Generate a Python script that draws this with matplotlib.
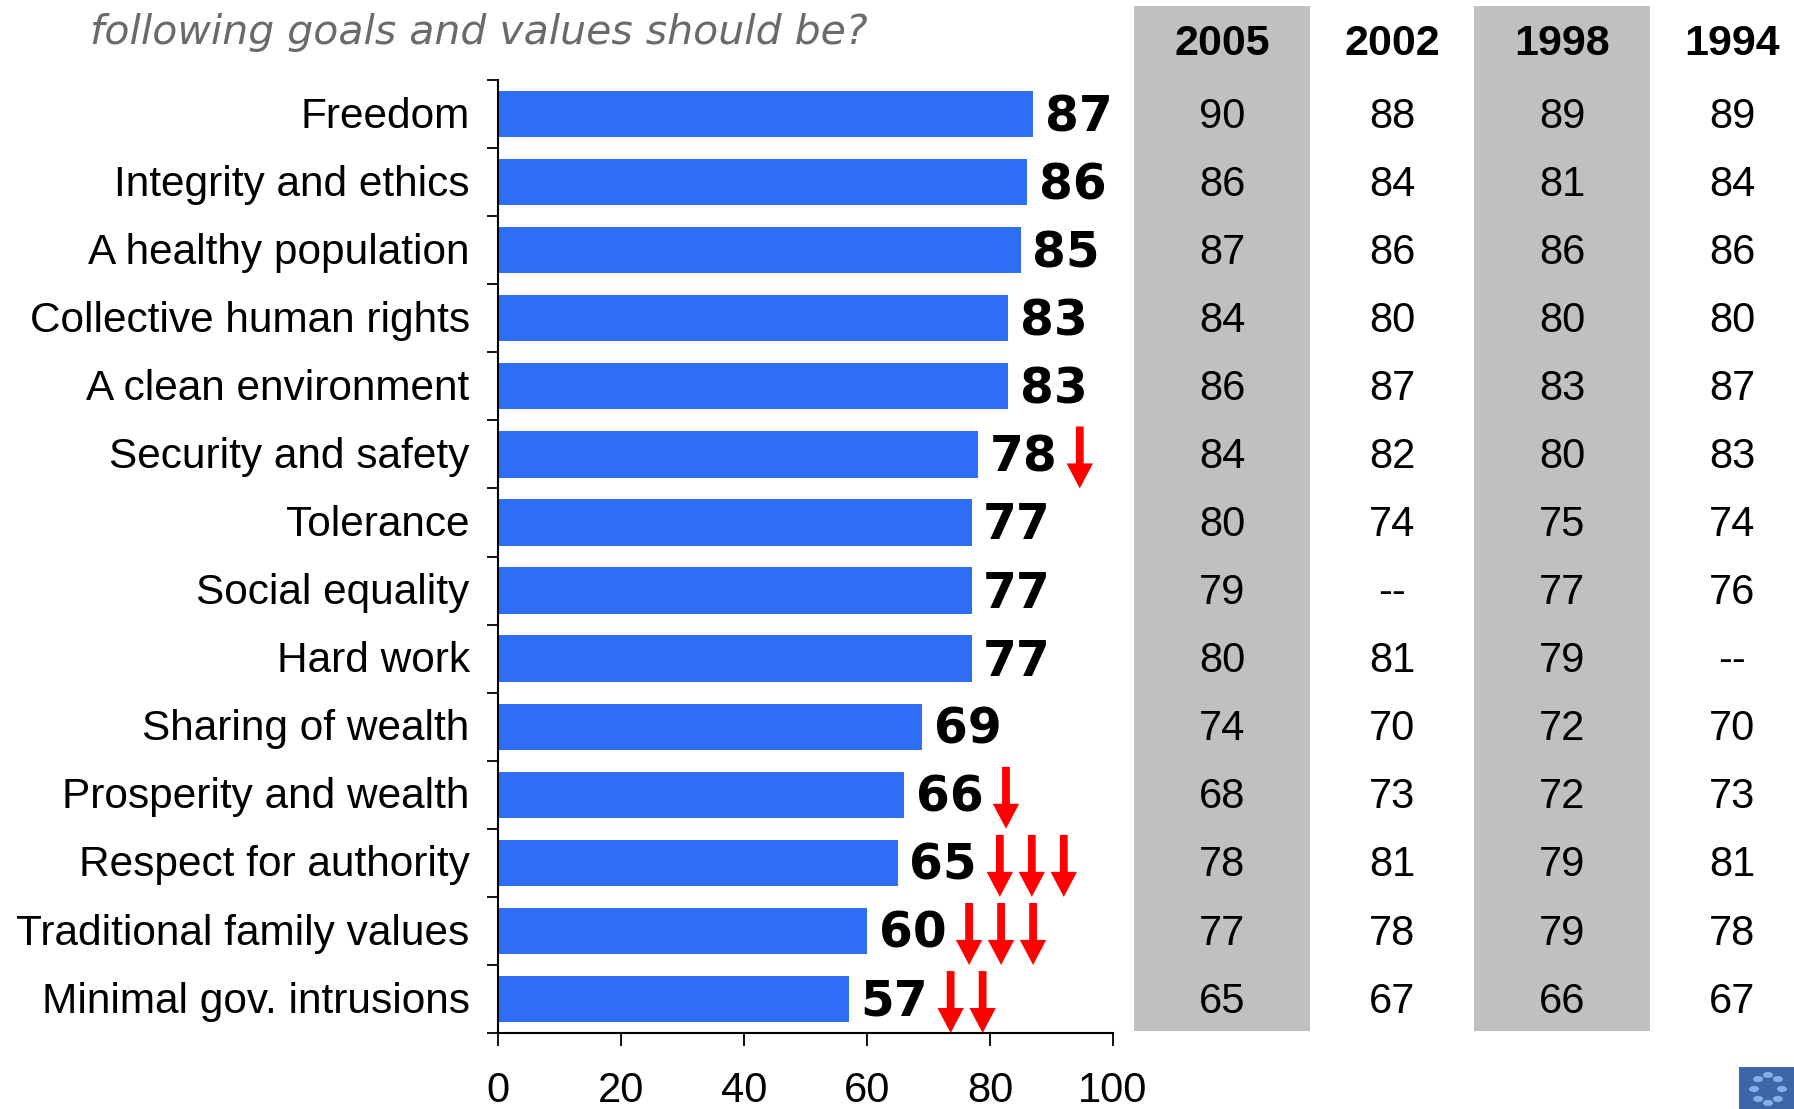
import matplotlib
matplotlib.use('Agg')
import matplotlib.pyplot as plt
from matplotlib import font_manager
from matplotlib.patches import Rectangle, Circle
import numpy as np

categories = ['Freedom', 'Integrity and ethics', 'A healthy population',
              'Collective human rights', 'A clean environment', 'Security and safety',
              'Tolerance', 'Social equality', 'Hard work', 'Sharing of wealth',
              'Prosperity and wealth', 'Respect for authority',
              'Traditional family values', 'Minimal gov. intrusions']
values = [87, 86, 85, 83, 83, 78, 77, 77, 77, 69, 66, 65, 60, 57]
down_arrows = [0, 0, 0, 0, 0, 1, 0, 0, 0, 0, 1, 3, 3, 2]

years = ['2005', '2002', '1998', '1994']
y2005 = ['90', '86', '87', '84', '86', '84', '80', '79', '80', '74', '68', '78', '77', '65']
y2002 = ['88', '84', '86', '80', '87', '82', '74', '--', '81', '70', '73', '81', '78', '67']
y1998 = ['89', '81', '86', '80', '83', '80', '75', '77', '79', '72', '72', '79', '79', '66']
y1994 = ['89', '84', '86', '80', '87', '83', '74', '76', '--', '70', '73', '81', '78', '67']
table_cols = [y2005, y2002, y1998, y1994]
shaded = [True, False, True, False]

names = {f.name for f in font_manager.fontManager.ttflist}
narrow = 'Liberation Sans Narrow' if 'Liberation Sans Narrow' in names else 'Liberation Sans'
plt.rcParams['font.family'] = ['Liberation Sans', 'DejaVu Sans']

W, H = 1794, 1109
fig = plt.figure(figsize=(W / 100, H / 100), dpi=100)

# main bar axes (pixel layout from the reference)
ax = fig.add_axes([498 / W, 1 - 1033 / H, 615 / W, 953 / H])
ypos = np.arange(len(categories))
ax.barh(ypos, values, height=0.68, color='#2E6EF4', edgecolor='none')
ax.set_xlim(0, 100)
ax.set_ylim(len(categories) - 0.5, -0.5)

for s in ['top', 'right']:
    ax.spines[s].set_visible(False)
for s in ['left', 'bottom']:
    ax.spines[s].set_linewidth(1.5)

ax.set_xticks(np.arange(0, 101, 20))
ax.tick_params(axis='x', direction='out', length=9.5, width=1.3, pad=18, labelsize=30)
for lab in ax.get_xticklabels():
    lab.set_family(narrow)
ax.set_yticks([])
ax.set_yticks(np.arange(len(categories) + 1) - 0.5, minor=True)
ax.tick_params(axis='y', which='minor', direction='out', length=8, width=1.3)

for i, (cat, v) in enumerate(zip(categories, values)):
    ax.text(-4.6, i + 0.20, cat, ha='right', va='baseline', fontsize=30.5,
            color='black', clip_on=False)
    ax.text(v + 1.9, i + 0.25, str(v), ha='left', va='baseline', fontsize=35,
            fontweight='bold', family='DejaVu Sans', color='black', clip_on=False)
    for k in range(down_arrows[i]):
        x = v + 16.6 + 5.2 * k
        ax.annotate('', xy=(x, i + 0.5), xytext=(x, i - 0.41),
                    arrowprops=dict(arrowstyle='simple,head_length=0.9,head_width=0.95,tail_width=0.28',
                                    fc='red', ec='none', shrinkA=0, shrinkB=0,
                                    mutation_scale=20),
                    annotation_clip=False)

# table of earlier years
tab = fig.add_axes([1137 / W, 1 - 1033 / H, 680 / W, 953 / H], sharey=ax)
tab.set_xlim(0, 4)
tab.axis('off')
top, bottom = -1.588, 13.47
for c, (yr, col) in enumerate(zip(years, table_cols)):
    if shaded[c]:
        tab.add_patch(Rectangle((c - 0.015, bottom), 1.03, top - bottom,
                                fc='#C0C0C0', ec='none', clip_on=False, zorder=0))
    tab.text(c + 0.5, -0.86, yr, ha='center', va='baseline', fontsize=31,
             fontweight='bold', clip_on=False)
    for i, val in enumerate(col):
        tab.text(c + 0.5, i + 0.20, val, ha='center', va='baseline', fontsize=30,
                 clip_on=False)

# question text (first line cut off in the source)
fig.text(90 / W, 1 - 44 / H, 'following goals and values should be?', ha='left',
         va='baseline', fontsize=29.5, fontstyle='italic',
         family=['DejaVu Sans'], color='#6A6A6A')

# small logo in the corner
fig.patches.append(Rectangle((1739 / W, 0), 60 / W, 42 / H, transform=fig.transFigure,
                             fc='#3C66A8', ec='none'))
for ang in np.linspace(0, 2 * np.pi, 8, endpoint=False):
    fig.patches.append(Circle((1768 / W + 14 / W * np.cos(ang), 20 / H + 14 / H * np.sin(ang)),
                              5 / W, transform=fig.transFigure, fc='#86AEE6', ec='none'))

fig.savefig('out.png', dpi=100)
